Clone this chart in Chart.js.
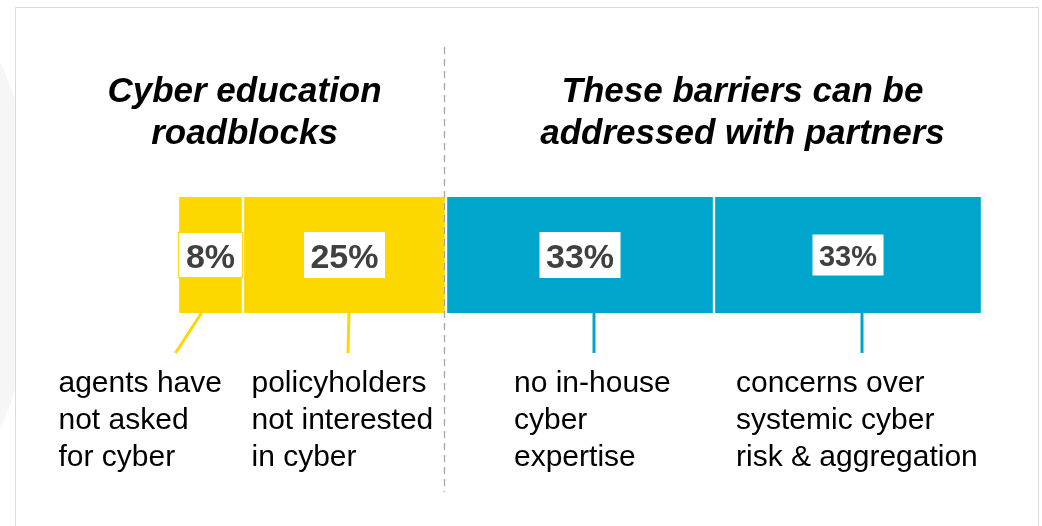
<!DOCTYPE html>
<html>
<head>
<meta charset="utf-8">
<script src="https://cdn.jsdelivr.net/npm/chart.js@4"></script>
<style>
  html, body { margin: 0; padding: 0; background: #fff; overflow: hidden; }
  #wrap { position: relative; width: 1042px; height: 526px; overflow: hidden; }
  #blob { position: absolute; left: -840px; top: -195px; width: 880px; height: 880px; border-radius: 50%; background: #f6f6f6; }
  #card { position: absolute; left: 15px; top: 7px; width: 1022px; height: 540px; border: 1px solid #dcdcdc; background: #fff; }
  #chart { position: absolute; left: 0; top: 0; }
</style>
</head>
<body>
<div id="wrap">
  <div id="blob"></div>
  <div id="card"></div>
  <canvas id="chart" width="1042" height="526"></canvas>
</div>
<script>
// --- data ---
const categories = [
  "agents have not asked for cyber",
  "policyholders not interested in cyber",
  "no in-house cyber expertise",
  "concerns over systemic cyber risk & aggregation"
];
const categoryLines = [
  ["agents have", "not asked", "for cyber"],
  ["policyholders", "not interested", "in cyber"],
  ["no in-house", "cyber", "expertise"],
  ["concerns over", "systemic cyber", "risk & aggregation"]
];
const values = [8, 25, 33, 33];
const valueLabels = ["8%", "25%", "33%", "33%"];
const groupTitles = [
  ["Cyber education", "roadblocks"],
  ["These barriers can be", "addressed with partners"]
];
const groupOf = [0, 0, 1, 1];

// --- style ---
const YELLOW = '#FCD700';
const BLUE = '#00A5CB';
const groupColors = [YELLOW, BLUE];
const valueFontSize = [34, 34, 34, 29];
const valueBoxH = [46, 46, 46, 41];
// leader line offsets from segment centre (top x, bottom x), label x offset
const leaders = [
  { top: -9, bottom: -35, text: -152 },
  { top: 4.5, bottom: 3.5, text: -93 },
  { top: 14, bottom: 14, text: -66 },
  { top: 14, bottom: 14, text: -112 }
];

const FONT = '"Liberation Sans", Arial, sans-serif';

const overlay = {
  id: 'overlay',
  afterDatasetsDraw(chart) {
    const ctx = chart.ctx;
    const xs = chart.scales.x;
    const segs = values.map((v, i) => {
      const el = chart.getDatasetMeta(i).data[0];
      return { left: Math.min(el.base, el.x), right: Math.max(el.base, el.x), y: el.y, h: el.height };
    });

    // dashed divider between the two groups
    const divX = xs.getPixelForValue(values[0] + values[1]) - 1.5;
    ctx.save();
    ctx.strokeStyle = '#a6a6a6';
    ctx.lineWidth = 1.3;
    ctx.setLineDash([7, 5]);
    ctx.beginPath();
    ctx.moveTo(divX, 47);
    ctx.lineTo(divX, 492);
    ctx.stroke();
    ctx.restore();

    // group titles
    ctx.save();
    ctx.fillStyle = '#000';
    ctx.font = 'italic bold 35px ' + FONT;
    ctx.textAlign = 'center';
    ctx.textBaseline = 'alphabetic';
    const titleX = [divX - 200, divX + 298];
    groupTitles.forEach((lines, g) => {
      lines.forEach((t, j) => ctx.fillText(t, titleX[g], 102 + j * 42));
    });
    ctx.restore();

    segs.forEach((s, i) => {
      const cx = (s.left + s.right) / 2;
      const bottom = s.y + s.h / 2;

      // value box
      ctx.save();
      ctx.font = 'bold ' + valueFontSize[i] + 'px ' + FONT;
      const tw = ctx.measureText(valueLabels[i]).width;
      const bw = tw + (i === 0 ? 16 : 13);
      const bh = valueBoxH[i];
      ctx.fillStyle = '#fff';
      ctx.fillRect(cx - bw / 2, s.y - bh / 2, bw, bh);
      if (i === 0) {
        ctx.strokeStyle = YELLOW;
        ctx.lineWidth = 1;
        ctx.strokeRect(cx - bw / 2 + 0.5, s.y - bh / 2 + 0.5, bw - 1, bh - 1);
      }
      ctx.fillStyle = '#404040';
      ctx.textAlign = 'center';
      ctx.textBaseline = 'alphabetic';
      ctx.fillText(valueLabels[i], cx, s.y + valueFontSize[i] * 0.37);
      ctx.restore();

      // leader line
      const L = leaders[i];
      ctx.save();
      ctx.strokeStyle = groupColors[groupOf[i]];
      ctx.lineWidth = 3;
      ctx.beginPath();
      ctx.moveTo(cx + L.top, bottom);
      ctx.lineTo(cx + L.bottom, bottom + 40);
      ctx.stroke();
      ctx.restore();

      // category label
      ctx.save();
      ctx.fillStyle = '#000';
      ctx.font = '30px ' + FONT;
      ctx.textAlign = 'left';
      ctx.textBaseline = 'alphabetic';
      categoryLines[i].forEach((t, j) => ctx.fillText(t, cx + L.text, 392 + j * 37));
      ctx.restore();
    });
  }
};

new Chart(document.getElementById('chart'), {
  type: 'bar',
  data: {
    labels: [''],
    datasets: values.map((v, i) => ({
      label: categories[i],
      data: [v],
      backgroundColor: groupColors[groupOf[i]],
      borderColor: '#ffffff',
      borderWidth: { left: 1.5, right: 1.5, top: 0, bottom: 0 },
      borderSkipped: false,
      barPercentage: 1,
      categoryPercentage: 1
    }))
  },
  options: {
    indexAxis: 'y',
    responsive: false,
    animation: false,
    layout: { padding: { left: 178, right: 60, top: 197, bottom: 213 } },
    plugins: { legend: { display: false }, tooltip: { enabled: false } },
    scales: {
      x: { display: false, stacked: true, min: 0, max: 99 },
      y: { display: false, stacked: true }
    }
  },
  plugins: [overlay]
});
</script>
</body>
</html>
